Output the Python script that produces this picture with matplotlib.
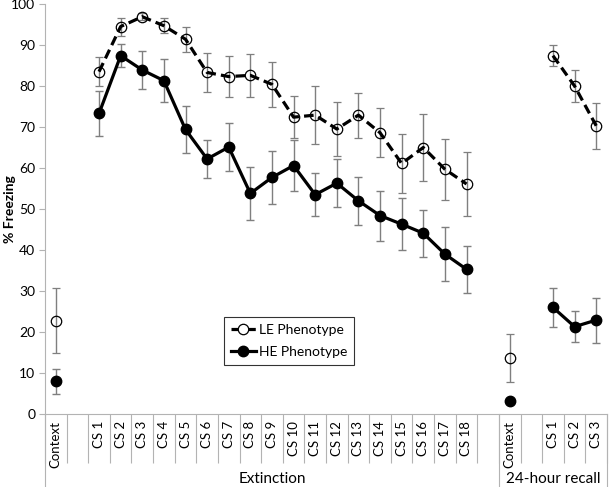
import numpy as np
import matplotlib
matplotlib.use("Agg")
import matplotlib.pyplot as plt
from matplotlib.lines import Line2D

plt.rcParams['font.family'] = ['Lato', 'DejaVu Sans']

nan = np.nan

# 26 category slots: Context, blank, CS 1-18, blank | Context, blank, CS 1-3
categories = (["Context", ""] + ["CS %d" % i for i in range(1, 19)] + [""]
              + ["Context", ""] + ["CS 1", "CS 2", "CS 3"])
groups = ["Extinction", "24-hour recall"]
group_sizes = [21, 5]

le_mean = [22.8, nan, 83.5, 94.5, 96.9, 94.7, 91.4, 83.3, 82.3, 82.6, 80.4, 72.4,
           72.9, 69.5, 72.9, 68.6, 61.1, 65.0, 59.7, 56.1, nan,
           13.7, nan, 87.4, 80.0, 70.3]
le_err = [8.0, nan, 3.6, 2.2, 0.8, 1.8, 3.0, 4.7, 5.0, 5.3, 5.4, 5.2,
          7.0, 6.5, 5.5, 6.0, 7.3, 8.1, 7.4, 7.9, nan,
          5.8, nan, 2.6, 4.0, 5.6]

he_mean = [8.0, nan, 73.3, 87.4, 83.9, 81.3, 69.4, 62.2, 65.1, 53.8, 57.7, 60.6,
           53.5, 56.3, 52.0, 48.4, 46.3, 44.1, 39.0, 35.3, nan,
           3.2, nan, 26.0, 21.3, 22.9]
he_err = [3.0, nan, 5.4, 2.8, 4.6, 5.3, 5.8, 4.6, 5.9, 6.4, 6.5, 6.2,
          5.2, 5.9, 5.8, 6.1, 6.3, 5.7, 6.6, 5.7, nan,
          0.0, nan, 4.8, 3.8, 5.5]

fig = plt.figure(figsize=(6.09, 4.87), dpi=100)
ax = fig.add_axes([45 / 609, 1 - 414 / 487, 562 / 609, 410 / 487])

x = np.arange(len(categories)) + 0.5
gray = '#7f7f7f'
axis_gray = '#b3b3b3'
dash = (0, (3, 1.6))

ax.errorbar(x, le_mean, yerr=le_err, color='black', ls=dash, lw=2.3,
            marker='o', ms=7.5, mfc='none', mec='black', mew=0.9,
            ecolor=gray, elinewidth=1.0, capsize=3, capthick=1.0, zorder=3)
ax.errorbar(x, he_mean, yerr=he_err, color='black', ls='-', lw=2.3,
            marker='o', ms=7.5, mfc='black', mec='black',
            ecolor=gray, elinewidth=1.0, capsize=3, capthick=1.0, zorder=4)

ax.set_xlim(0, len(categories))
ax.set_ylim(0, 100)
ax.set_yticks(np.arange(0, 101, 10))
ax.tick_params(axis='y', labelsize=10, length=4, color=axis_gray, pad=3)
ax.set_ylabel('% Freezing', fontsize=10, fontweight='bold')
ax.yaxis.set_label_coords(-29 / 562, 0.5)

for s in ['top', 'right']:
    ax.spines[s].set_visible(False)
for s in ['left', 'bottom']:
    ax.spines[s].set_color(axis_gray)

# category separators as major ticks, labels as minor ticks
ax.set_xticks(np.arange(len(categories) + 1))
ax.set_xticklabels([])
ax.tick_params(axis='x', which='major', length=35, color=axis_gray, width=0.8)
ax.set_xticks(x, minor=True)
ax.set_xticklabels(categories, minor=True, rotation=90, fontsize=9.5)
ax.tick_params(axis='x', which='minor', length=0, pad=5)
for lab in ax.get_xticklabels(minor=True):
    lab.set_verticalalignment('top')

# group boundaries and group labels
trans = ax.get_xaxis_transform()
edges = np.concatenate([[0], np.cumsum(group_sizes)])
for e in edges:
    ax.plot([e, e], [0, -73 / 410], transform=trans, clip_on=False,
            color=axis_gray, lw=0.8)
for g, a, b in zip(groups, edges[:-1], edges[1:]):
    ax.text((a + b) / 2, -65 / 410, g, transform=trans, ha='center',
            va='center', fontsize=11)

handles = [
    Line2D([], [], color='black', ls=dash, lw=2.3, marker='o', ms=7.5,
           mfc='white', mec='black', mew=0.9),
    Line2D([], [], color='black', ls='-', lw=2.3, marker='o', ms=7.5,
           mfc='black', mec='black'),
]
leg = ax.legend(handles, ['LE Phenotype', 'HE Phenotype'], loc='upper left',
                bbox_to_anchor=(172 / 562, 104 / 410),
                fontsize=10, frameon=True, fancybox=False, edgecolor='black',
                handlelength=1.8, handletextpad=0.2, borderpad=0.5,
                labelspacing=0.7)
leg.get_frame().set_linewidth(0.8)

fig.savefig('out.png', dpi=100)
